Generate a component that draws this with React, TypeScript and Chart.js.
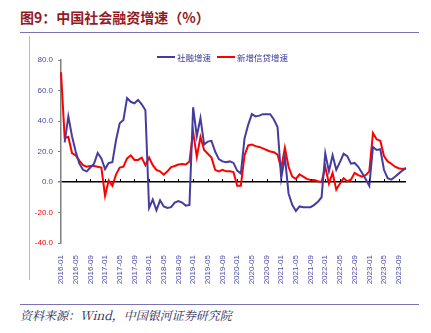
import React, { useEffect, useRef } from "react";
import { Chart, registerables } from "chart.js";

Chart.register(...registerables);

// Monthly categories 2016-01 .. 2023-11
const startYear = 2016;
const monthCount = 95;
const months: string[] = [];
for (let i = 0; i < monthCount; i++) {
  const y = startYear + Math.floor(i / 12);
  const m = (i % 12) + 1;
  months.push(`${y}-${m < 10 ? "0" + m : m}`);
}

const seriesNames = ["社融增速", "新增信贷增速"];

const socialFinancing: (number | null)[] = [
  null, 26, 43, 30, 20, 12, 8, 7, 9.5, 12,
  19, 15.5, 8.5, 12.5, 13, 27.5, 38.5, 40.7, 55, 52.6,
  51.6, 53.8, 51, 47, -17, -11.5, -18.5, -12, -16, -17,
  -16.5, -13.5, -12.5, -13.5, -15.5, -15, 49, 30, 42, 24.5,
  26.5, 27, 20, 15, 13.5, 13, 13.5, 12.5, 7.5, 5.5,
  28.5, 37.5, 44.5, 43, 43.5, 44.5, 44.5, 44.5, 41, 36,
  2.5, 16.5, -7.5, -15, -19, -16, -16.5, -16.5, -16.5, -15,
  -13, -10, 18.8, 7, 17.5, 8, 13, 18.5, 17, 12,
  12.5, 10, 6, 2, -2.5, 23, 21, 21.5, 8, 2.5,
  1.5, 3.5, 5.5, 7.5, 9,
];

const newLoans: number[] = [
  72, 29, 29.5, 19, 17.5, 14, 11, 10, 10.5, 10.5,
  10, 9.5, -9, 1, -2.5, 5, 9.5, 10, 15.5, 17.5,
  14.5, 14.5, 16, 11, 16, 11, 8, 7, 4.8, 7,
  9.8, 10.5, 11.5, 11.8, 11.5, 13.5, 33, 16.5, 29.5, 21,
  18.5, 16, 8, 7, 8, 7, 7, 6.5, -2.5, -2.5,
  17.5, 24, 24.5, 23.5, 23, 22, 21, 20, 19.5, 18,
  9, 22.5, 10, 3.5, 2, 5, 3.5, 2, 1.3, 1.3,
  0.5, 0, 10, -1, 6, -5, -1, 2.5, 0.5, 1.5,
  6, 4.5, 3.5, 4.5, 7, 32, 28, 27, 17, 13.5,
  12, 10, 9, 8.5, 9,
];

const yMin = -40;
const yMax = 80;
const yStep = 20;
const labelEvery = 4;

const PURPLE = "#463CA0";
const RED = "#FF0000";
const TICK_BLUE = "#4B4BA8";
const FONT = "'Liberation Sans', Arial, sans-serif";
const CJK = "'Noto Sans CJK SC', sans-serif";

const zeroTicks = {
  id: "zeroTicks",
  afterDatasetsDraw(chart: any) {
    const { ctx, scales } = chart;
    const x = scales.x;
    const y = scales.y;
    const y0 = y.getPixelForValue(0);
    ctx.save();
    ctx.strokeStyle = "#000";
    ctx.lineWidth = 1;
    for (let i = labelEvery; i < months.length; i += labelEvery) {
      const px = Math.round(x.getPixelForValue(i)) + 0.5;
      ctx.beginPath();
      ctx.moveTo(px, y0);
      ctx.lineTo(px, y0 - 3);
      ctx.stroke();
    }
    ctx.restore();
  },
};

function ChartCanvas() {
  const ref = useRef<HTMLCanvasElement | null>(null);
  useEffect(() => {
    if (!ref.current) return;
    const chart = new Chart(ref.current, {
      type: "line",
      data: {
        labels: months,
        datasets: [
          {
            label: seriesNames[0],
            data: socialFinancing,
            borderColor: PURPLE,
            backgroundColor: PURPLE,
            borderWidth: 2,
            pointRadius: 0,
            tension: 0,
            spanGaps: true,
          },
          {
            label: seriesNames[1],
            data: newLoans,
            borderColor: RED,
            backgroundColor: RED,
            borderWidth: 2,
            pointRadius: 0,
            tension: 0,
          },
        ],
      },
      options: {
        responsive: false,
        animation: false,
        layout: { padding: { top: 20, right: 25, bottom: 6, left: 0 } },
        plugins: {
          legend: { display: false },
          tooltip: { enabled: false },
          title: { display: false },
        },
        scales: {
          x: {
            offset: false,
            grid: { display: false },
            border: { display: false },
            afterFit: (s: any) => {
              s.height = 45;
            },
            ticks: {
              autoSkip: false,
              maxRotation: 90,
              minRotation: 90,
              padding: 4,
              color: TICK_BLUE,
              font: { family: FONT, size: 8 },
              callback: (_v: any, i: number) => (i % labelEvery === 0 ? months[i] : ""),
            },
          },
          y: {
            min: yMin,
            max: yMax,
            afterFit: (s: any) => {
              s.width = 61;
            },
            border: { display: true, color: "#7f7f7f", width: 1.5 },
            grid: {
              drawOnChartArea: true,
              drawTicks: true,
              tickLength: 3,
              tickColor: "#7f7f7f",
              color: (c: any) => (c.tick && c.tick.value === 0 ? "#000000" : "rgba(0,0,0,0)"),
              lineWidth: (c: any) => (c.tick && c.tick.value === 0 ? 1.5 : 1),
            },
            ticks: {
              stepSize: yStep,
              padding: 5,
              font: { family: FONT, size: 8 },
              color: (c: any) => (c.tick && c.tick.value < 0 ? "#FF0000" : TICK_BLUE),
              callback: (v: any) => Number(v).toFixed(1),
            },
          },
        },
      },
      plugins: [zeroTicks],
    });
    return () => chart.destroy();
  }, []);
  return <canvas ref={ref} width={431} height={254} style={{ width: 431, height: 254, display: "block" }} />;
}

export default function App() {
  return (
    <div style={{ position: "absolute", left: 0, top: 0, width: 431, height: 333, background: "#fff", overflow: "hidden" }}>
      <div
        style={{
          position: "absolute",
          left: 20,
          top: 7,
          fontFamily: CJK,
          fontWeight: 700,
          fontSize: 14,
          lineHeight: "20px",
          color: "#931A1E",
          whiteSpace: "nowrap",
        }}
      >
        图9：中国社会融资增速（%）
      </div>
      <div style={{ position: "absolute", left: 20, top: 32, width: 399, height: 1, background: "#7A72B5" }} />
      <div style={{ position: "absolute", left: 29, top: 36, width: 1, height: 244, background: "#BBBBBB" }} />
      <div style={{ position: "absolute", left: 0, top: 40 }}>
        <ChartCanvas />
      </div>
      <div
        style={{
          position: "absolute",
          left: 157,
          top: 51,
          display: "flex",
          alignItems: "center",
          fontFamily: CJK,
          fontSize: 8.5,
          lineHeight: "12px",
          color: "#3A3A9A",
          whiteSpace: "nowrap",
        }}
      >
        <span style={{ display: "inline-block", width: 18, height: 2, background: PURPLE, marginRight: 2 }} />
        <span>{seriesNames[0]}</span>
        <span style={{ display: "inline-block", width: 18, height: 2, background: RED, marginLeft: 6, marginRight: 2 }} />
        <span>{seriesNames[1]}</span>
      </div>
      <div style={{ position: "absolute", left: 20, top: 304, width: 399, height: 1, background: "#7A72B5" }} />
      <div
        style={{
          position: "absolute",
          left: 20,
          top: 307,
          fontFamily: "'Noto Serif CJK SC', 'Noto Sans CJK SC', serif",
          fontStyle: "italic",
          fontSize: 12,
          lineHeight: "16px",
          color: "#1E1E50",
          whiteSpace: "nowrap",
        }}
      >
        资料来源：Wind，中国银河证券研究院
      </div>
    </div>
  );
}
